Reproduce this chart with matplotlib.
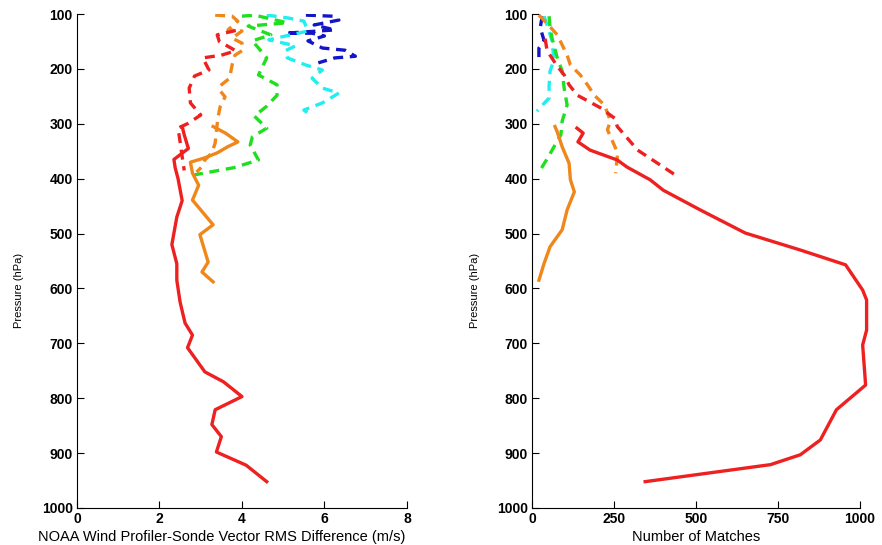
import matplotlib
matplotlib.use('Agg')
import matplotlib.pyplot as plt

plt.rcParams['font.family'] = ['Liberation Sans', 'DejaVu Sans']

# ---- left panel: vector RMS difference (m/s) vs pressure (hPa)
red_solid_rms = [2.55, 2.6, 2.7, 2.35, 2.38, 2.45, 2.55, 2.42, 2.3, 2.42, 2.42, 2.5, 2.62,
                 2.8, 2.68, 3.1, 3.55, 4.0, 3.35, 3.27, 3.5, 3.38, 4.1, 4.6]
red_solid_p = [305, 320, 345, 365, 380, 400, 440, 470, 520, 555, 585, 625, 663,
               685, 708, 752, 770, 797, 821, 848, 870, 898, 922, 952]

red_dash_rms = [3.85, 3.4, 3.45, 3.85, 3.5, 3.05, 3.2, 2.85, 2.72, 2.75, 3.0, 2.7, 2.45,
                2.5, 2.55, 2.6]
red_dash_p = [130, 138, 150, 167, 175, 180, 202, 213, 235, 262, 284, 299, 308,
              333, 360, 385]

orange_solid_rms = [3.3, 3.6, 3.9, 3.65, 3.4, 3.1, 2.75, 2.8, 2.95, 2.8, 3.3, 2.98, 3.18,
                    3.03, 3.3]
orange_solid_p = [305, 317, 333, 342, 353, 362, 370, 390, 412, 439, 484, 502, 552,
                  570, 588]

orange_dash_rms = [3.35, 3.76, 3.9, 3.66, 4.0, 3.76, 4.0, 4.02, 3.83, 3.76, 3.7, 3.47,
                   3.47, 3.59, 3.47, 3.42, 3.39, 3.35, 3.27, 3.1, 3.03, 2.9]
orange_dash_p = [102, 104, 113, 129, 131, 144, 153, 166, 175, 193, 217, 231,
                 240, 251, 269, 288, 306, 335, 353, 366, 378, 388]

green_dash_rms = [4.0, 4.3, 5.1, 4.15, 4.7, 4.25, 4.4, 4.6, 4.4, 4.85, 4.85, 4.6, 4.3,
                  4.6, 4.25, 4.2, 4.4, 3.8, 2.85]
green_dash_p = [104, 102, 116, 122, 138, 149, 162, 180, 211, 229, 248, 268, 286,
                308, 324, 339, 366, 380, 393]

cyan_dash_rms = [4.6, 5.1, 5.5, 5.6, 5.3, 4.65, 5.3, 5.05, 5.1, 5.55, 5.95, 5.7, 5.95,
                 6.35, 5.95, 5.5, 5.7]
cyan_dash_p = [102, 107, 113, 131, 136, 147, 158, 167, 180, 193, 202, 217, 235,
               244, 262, 275, 286]

blue_dash_rms = [5.55, 6.2, 6.35, 5.75, 6.25, 5.05, 5.7, 6.0, 5.6, 5.95, 6.5, 6.75,
                 6.25, 5.85]
blue_dash_p = [102, 104, 111, 120, 129, 135, 135, 140, 149, 162, 166, 177, 180, 189]

# ---- right panel: number of matches vs pressure (hPa)
red_solid_n = [137, 156, 140, 177, 260, 290, 360, 400, 513, 650, 818, 956, 1008, 1020,
               1020, 1008, 1017, 928, 879, 818, 727, 345]
red_solid_np = [308, 317, 333, 348, 366, 379, 402, 421, 457, 499, 530, 557, 603, 621,
                676, 703, 776, 821, 876, 903, 921, 952]

red_dash_n = [40, 46, 77, 98, 113, 138, 169, 209, 252, 260, 322, 383, 436]
red_dash_np = [145, 167, 195, 211, 229, 248, 258, 271, 290, 305, 348, 372, 393]

orange_solid_n = [70, 77, 92, 113, 117, 129, 107, 92, 55, 37, 21]
orange_solid_np = [305, 315, 342, 372, 402, 424, 457, 493, 524, 554, 585]

orange_dash_n = [21, 50, 77, 107, 117, 147, 169, 190, 221, 236, 236, 230, 261, 255]
orange_dash_np = [102, 120, 138, 175, 193, 211, 229, 248, 266, 290, 300, 311, 353, 390]

green_dash_n = [52, 55, 61, 77, 92, 98, 107, 92, 88, 67, 45, 21]
green_dash_np = [104, 125, 144, 180, 204, 235, 266, 295, 320, 342, 365, 388]

cyan_dash_n = [37, 52, 61, 67, 55, 52, 52, 15]
cyan_dash_np = [104, 131, 149, 184, 204, 231, 253, 277]

blue_dash_n = [31, 25, 37, 21, 21]
blue_dash_np = [104, 125, 149, 162, 186]

RED = '#ee2020'
ORANGE = '#f0871a'
GREEN = '#1ee01e'
CYAN = '#20eef0'
BLUE = '#1414c8'
LW = 2.4
DASH = (0, (3, 2))

fig = plt.figure(figsize=(8.82, 5.45), dpi=100)
ax1 = fig.add_axes([0.0873, 0.0679, 0.3741, 0.9064])
ax2 = fig.add_axes([0.6032, 0.0679, 0.3719, 0.9064])

ax1.plot(blue_dash_rms, blue_dash_p, color=BLUE, lw=LW, ls=DASH)
ax1.plot(cyan_dash_rms, cyan_dash_p, color=CYAN, lw=LW, ls=DASH)
ax1.plot(green_dash_rms, green_dash_p, color=GREEN, lw=LW, ls=DASH)
ax1.plot(orange_dash_rms, orange_dash_p, color=ORANGE, lw=LW, ls=DASH)
ax1.plot(orange_solid_rms, orange_solid_p, color=ORANGE, lw=LW)
ax1.plot(red_dash_rms, red_dash_p, color=RED, lw=LW, ls=DASH)
ax1.plot(red_solid_rms, red_solid_p, color=RED, lw=LW)

ax2.plot(blue_dash_n, blue_dash_np, color=BLUE, lw=LW, ls=DASH)
ax2.plot(cyan_dash_n, cyan_dash_np, color=CYAN, lw=LW, ls=DASH)
ax2.plot(green_dash_n, green_dash_np, color=GREEN, lw=LW, ls=DASH)
ax2.plot(orange_dash_n, orange_dash_np, color=ORANGE, lw=LW, ls=DASH)
ax2.plot(orange_solid_n, orange_solid_np, color=ORANGE, lw=LW)
ax2.plot(red_dash_n, red_dash_np, color=RED, lw=LW, ls=DASH)
# the red curve pokes just past the 1000 end of the axis in the original
ax2.plot(red_solid_n, red_solid_np, color=RED, lw=LW, clip_on=False)

ax1.set_xlim(0, 8)
ax1.set_xticks([0, 2, 4, 6, 8])
ax1.set_xlabel('NOAA Wind Profiler-Sonde Vector RMS Difference (m/s)', fontsize=10.5)
ax1.xaxis.set_label_coords(0.44, -0.045)
ax2.set_xlim(0, 1000)
ax2.set_xticks([0, 250, 500, 750, 1000])
ax2.set_xlabel('Number of Matches', fontsize=10.5)
ax2.xaxis.set_label_coords(0.5, -0.045)

for ax in (ax1, ax2):
    ax.set_ylim(1000, 100)
    ax.set_yticks(range(100, 1001, 100))
    ax.set_ylabel('Pressure (hPa)', fontsize=8)
    ax.yaxis.set_label_coords(-0.16, 0.44)
    ax.spines['top'].set_visible(False)
    ax.spines['right'].set_visible(False)
    ax.tick_params(direction='in', length=5, width=0.8, labelsize=10, pad=3)
    for lab in ax.get_xticklabels() + ax.get_yticklabels():
        lab.set_fontweight('bold')

fig.savefig('out.png', dpi=100)
